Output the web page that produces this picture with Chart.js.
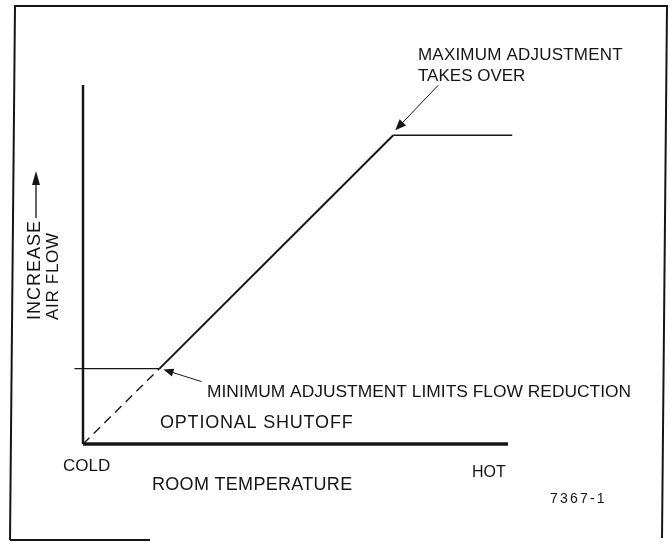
<!DOCTYPE html>
<html>
<head>
<meta charset="utf-8">
<script src="https://cdn.jsdelivr.net/npm/chart.js@4.4.1/dist/chart.umd.min.js"></script>
<style>
  html, body { margin: 0; padding: 0; background: #fff; }
  canvas { display: block; }
</style>
</head>
<body>
<canvas id="flowChart" width="670" height="542"></canvas>
<script>
// Room temperature runs 0 (COLD) .. 100 (HOT), air flow 0 .. 100
const axisTemp = [0, 100];
const axisFlow = [0, 100];

// minimum adjustment level
const minTemp = [-2, 18];
const minFlow = [21, 21];

// optional shutoff (dashed) part
const shutoffTemp = [0, 18];
const shutoffFlow = [0, 21];

// proportional ramp
const rampTemp = [18, 73];
const rampFlow = [21, 86];

// maximum adjustment takes over
const maxTemp = [73, 101];
const maxFlow = [86, 86];

const ink = '#151515';

function pts(xs, ys) {
    return xs.map((x, i) => ({ x: x, y: ys[i] }));
}

function lineSet(label, data, width, dash) {
    return {
        label: label,
        data: data,
        showLine: true,
        borderColor: ink,
        borderWidth: width,
        borderDash: dash || [],
        pointRadius: 0,
        fill: false,
        tension: 0,
        clip: false
    };
}

// draws a thin line with a filled head at (x1, y1)
function arrow(ctx, x0, y0, x1, y1, len, half) {
    const a = Math.atan2(y1 - y0, x1 - x0);
    ctx.beginPath();
    ctx.moveTo(x0, y0);
    ctx.lineTo(x1 - Math.cos(a) * len * 0.8, y1 - Math.sin(a) * len * 0.8);
    ctx.stroke();
    ctx.beginPath();
    ctx.moveTo(x1, y1);
    ctx.lineTo(x1 - Math.cos(a) * len - Math.sin(a) * half, y1 - Math.sin(a) * len + Math.cos(a) * half);
    ctx.lineTo(x1 - Math.cos(a) * len + Math.sin(a) * half, y1 - Math.sin(a) * len - Math.cos(a) * half);
    ctx.closePath();
    ctx.fill();
}

function text(ctx, str, x, y, size, spacing) {
    ctx.font = size + 'px "Liberation Sans", Arial, sans-serif';
    ctx.letterSpacing = (spacing || 0) + 'px';
    ctx.fillText(str, x, y);
}

const notesPlugin = {
    id: 'notes',
    afterDatasetsDraw(chart) {
        const ctx = chart.ctx;
        const xs = chart.scales.x;
        const ys = chart.scales.y;
        ctx.save();
        ctx.strokeStyle = ink;
        ctx.fillStyle = ink;
        ctx.textAlign = 'left';
        ctx.textBaseline = 'alphabetic';

        // outer frame
        ctx.lineWidth = 2;
        ctx.beginPath();
        ctx.moveTo(10, 540);
        ctx.lineTo(15, 6);
        ctx.lineTo(667, 6);
        ctx.lineTo(662, 538);
        ctx.stroke();
        ctx.beginPath();
        ctx.moveTo(10, 540);
        ctx.lineTo(150, 540);
        ctx.stroke();

        // leader arrows pointing at the two corners of the curve
        ctx.lineWidth = 1;
        const lowX = xs.getPixelForValue(rampTemp[0]);
        const lowY = ys.getPixelForValue(rampFlow[0]);
        arrow(ctx, lowX + 42, lowY + 13, lowX + 4, lowY + 1, 10, 4);
        const highX = xs.getPixelForValue(rampTemp[1]);
        const highY = ys.getPixelForValue(rampFlow[1]);
        arrow(ctx, highX + 45, highY - 50, highX + 2, highY - 5, 11, 4.5);

        // notes
        text(ctx, 'MAXIMUM ADJUSTMENT', 418, 60, 17, 0.2);
        text(ctx, 'TAKES OVER', 418, 81, 17, 0);
        text(ctx, 'MINIMUM ADJUSTMENT LIMITS FLOW REDUCTION', 207, 397, 17.4, 0);
        text(ctx, 'OPTIONAL SHUTOFF', 160, 428, 18, 0.8);
        text(ctx, 'COLD', 63, 471, 17, 0);
        text(ctx, 'HOT', 472, 477, 16, 0);
        text(ctx, 'ROOM TEMPERATURE', 152, 490, 18, 0.3);
        text(ctx, '7367-1', 550, 503, 14, 2.2);

        // rotated axis title
        ctx.save();
        ctx.translate(40, 320);
        ctx.rotate(-Math.PI / 2);
        text(ctx, 'INCREASE', 0, 0, 18, 1);
        ctx.restore();
        ctx.save();
        ctx.translate(58, 320);
        ctx.rotate(-Math.PI / 2);
        text(ctx, 'AIR FLOW', 0, 0, 17, 0.7);
        ctx.restore();
        ctx.lineWidth = 1.3;
        arrow(ctx, 36, 218, 36, 171, 14, 4);

        ctx.restore();
    }
};

new Chart(document.getElementById('flowChart'), {
    type: 'scatter',
    data: {
        datasets: [
            lineSet('Room temperature axis', pts(axisTemp, [0, 0]), 3.5),
            lineSet('Air flow axis', pts([0, 0], axisFlow), 2.5),
            lineSet('Minimum adjustment', pts(minTemp, minFlow), 1.4),
            lineSet('Optional shutoff', pts(shutoffTemp, shutoffFlow), 1.4, [9, 6]),
            lineSet('Ramp', pts(rampTemp, rampFlow), 2),
            lineSet('Maximum adjustment', pts(maxTemp, maxFlow), 1.5)
        ]
    },
    options: {
        responsive: false,
        animation: false,
        devicePixelRatio: 1,
        layout: { padding: 0 },
        scales: {
            x: { type: 'linear', display: false, min: -19.53, max: 138.12 },
            y: { type: 'linear', display: false, min: -27.3, max: 123.68 }
        },
        plugins: {
            legend: { display: false },
            tooltip: { enabled: false }
        }
    },
    plugins: [notesPlugin]
});
</script>
</body>
</html>
